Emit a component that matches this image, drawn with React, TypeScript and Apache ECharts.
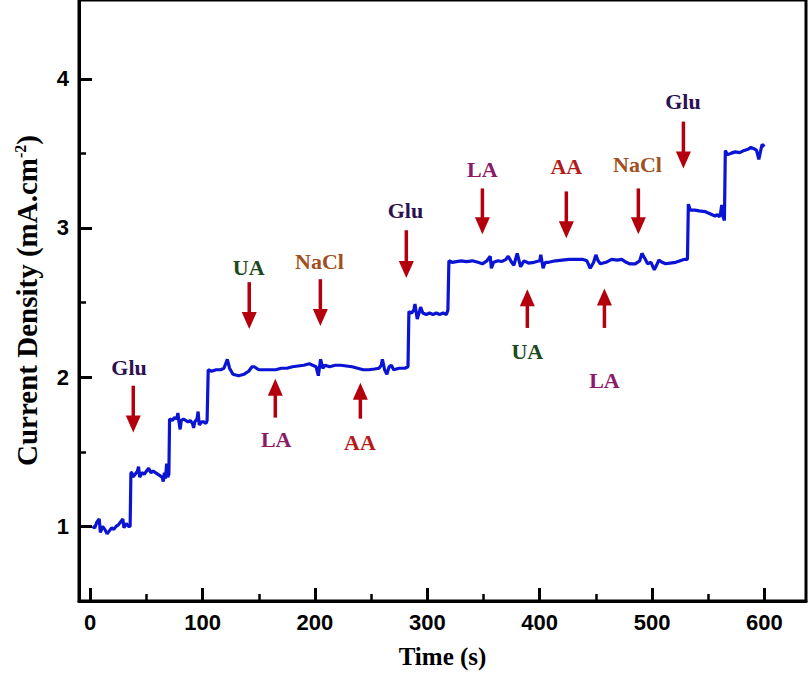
import React, { useEffect, useRef } from "react";
import * as echarts from "echarts";

// Amperometric response: time (s) and current density (mA.cm-2)
const timeS = [
  2, 4, 6, 8, 9, 11, 13, 15, 17, 19, 21, 23, 25, 27, 29, 30, 32, 34, 35.5, 36.2,
  37, 38, 40, 42, 43, 44, 46, 48, 50, 52, 54, 56, 58, 60, 62, 64, 65, 66, 67, 68, 69, 70,
  70.6, 73, 75, 77, 78, 79, 80, 81, 83, 85, 87, 89, 91, 92, 93, 95, 96, 97, 99, 101, 103, 104,
  105, 108, 112, 116, 119, 121, 122, 124, 127, 132, 137, 141, 144, 146, 150, 155, 160, 165,
  170, 175, 180, 185, 190, 195, 198, 201, 203, 205, 207, 209, 213, 218, 223, 228, 233, 238,
  243, 248, 253, 257, 259, 260, 262, 264, 266, 268, 270, 275, 280, 282.8,
  283.6, 286, 288, 289, 291, 293, 294, 296, 299, 302, 305, 308, 311, 314, 317, 318.3,
  319.2, 322, 326, 330, 335, 340, 345, 349, 353, 356, 357, 359, 363, 366, 370, 372, 375, 377,
  380, 383, 386, 390, 395, 400, 401, 403, 405, 408, 414, 420, 426, 432, 438, 442, 445, 448,
  450, 452, 454, 459, 464, 469, 473, 477, 480, 485, 489, 491, 494, 496, 499, 502, 504, 506,
  509, 512, 516, 521, 525, 529, 531.5,
  532.3, 534, 538, 542, 547, 550, 553, 556, 558, 560, 561, 562, 563, 564.4,
  565.2, 567, 570, 574, 578, 582, 586, 588, 591, 593, 595, 597, 598, 600,
];
const currentDensity = [
  1.0, 0.99, 1.03, 1.05, 0.96, 1.0, 0.98, 0.95, 0.97, 0.99, 0.98, 1.0, 1.01, 1.03, 1.05, 0.99, 1.02, 1.0, 1.0, 1.36,
  1.36, 1.33, 1.35, 1.37, 1.4, 1.33, 1.36, 1.35, 1.37, 1.39, 1.36, 1.37, 1.36, 1.35, 1.34, 1.33, 1.3, 1.36, 1.32, 1.42, 1.33, 1.35,
  1.72, 1.71, 1.73, 1.72, 1.76, 1.7, 1.65, 1.71, 1.72, 1.71, 1.7, 1.71, 1.69, 1.66, 1.7, 1.72, 1.77, 1.68, 1.7, 1.7, 1.69, 1.71,
  2.05, 2.04, 2.05, 2.05, 2.06, 2.1, 2.12, 2.06, 2.02, 2.01, 2.02, 2.04, 2.07, 2.07, 2.05, 2.05, 2.05, 2.05,
  2.06, 2.06, 2.07, 2.075, 2.08, 2.09, 2.08, 2.07, 2.01, 2.12, 2.06, 2.08, 2.07, 2.08, 2.08, 2.075, 2.07, 2.06,
  2.05, 2.05, 2.055, 2.06, 2.08, 2.12, 2.05, 2.02, 2.07, 2.08, 2.05, 2.06, 2.06, 2.07,
  2.44, 2.43, 2.45, 2.49, 2.39, 2.44, 2.47, 2.43, 2.42, 2.43, 2.42, 2.43, 2.42, 2.43, 2.42, 2.45,
  2.78, 2.77, 2.775, 2.78, 2.775, 2.78, 2.77, 2.76, 2.78, 2.81, 2.73, 2.77, 2.78, 2.775, 2.79, 2.81, 2.77, 2.75,
  2.83, 2.74, 2.78, 2.765, 2.77, 2.78, 2.82, 2.73, 2.77, 2.77, 2.78, 2.785, 2.79, 2.79, 2.79, 2.78, 2.73, 2.77,
  2.82, 2.78, 2.76, 2.77, 2.79, 2.785, 2.79, 2.77, 2.76, 2.76, 2.78, 2.83, 2.79, 2.76, 2.77, 2.72, 2.75, 2.785,
  2.77, 2.76, 2.765, 2.77, 2.78, 2.79, 2.79,
  3.16, 3.12, 3.12, 3.115, 3.11, 3.1, 3.09, 3.08, 3.09, 3.075, 3.1, 3.155, 3.08, 3.05,
  3.52, 3.49, 3.5, 3.51, 3.505, 3.52, 3.53, 3.54, 3.53, 3.52, 3.46, 3.53, 3.56, 3.545,
];

// Axis ticks
const xMajorTicks = [0, 100, 200, 300, 400, 500, 600];
const xMinorTicks = [50, 150, 250, 350, 450, 550];
const yMajorTicks = [1, 2, 3, 4];
const yMinorTicks = [1.5, 2.5, 3.5];

// Injection annotations: analyte, time, arrow tail, arrow tip, label level
const annLabels = ["Glu", "UA", "LA", "NaCl", "AA", "Glu", "LA", "UA", "AA", "LA", "NaCl", "Glu"];
const annTime = [38.3, 141.5, 164.7, 204.8, 240.4, 281.3, 349.0, 389.0, 423.7, 457.6, 487.8, 527.9];
const annLabelTime = [34.5, 141.0, 165.5, 204.0, 240.0, 280.5, 349.0, 389.0, 423.7, 457.6, 487.0, 527.5];
const annTail = [1.943, 2.637, 1.729, 2.657, 1.722, 2.985, 3.265, 2.33, 3.245, 2.33, 3.265, 3.713];
const annTip = [1.629, 2.323, 1.989, 2.343, 1.963, 2.664, 2.958, 2.59, 2.931, 2.595, 2.958, 3.399];
const annLabelLevel = [2.063, 2.737, 1.582, 2.778, 1.562, 3.118, 3.392, 2.17, 3.412, 1.98, 3.425, 3.846];

const labelColors: Record<string, string> = {
  Glu: "#2b1150",
  UA: "#1c4a1c",
  LA: "#8c1a6a",
  NaCl: "#a14f1d",
  AA: "#b31b1b",
};
const arrowColor = "#b3000c";

export default function App() {
  const ref = useRef<HTMLDivElement>(null);

  useEffect(() => {
    if (!ref.current) return;
    const chart = echarts.init(ref.current, undefined, { renderer: "svg" });
    const lineData = timeS.map((t, i) => [t, currentDensity[i]]);
    const annData = annTime.map((t, i) => [t, annTail[i], annTip[i], annLabelLevel[i], i, annLabelTime[i]]);
    const xMin = -10;
    const xMax = 637;
    const yMin = 0.5;
    const yMax = 4.528;

    chart.setOption({
      animation: false,
      backgroundColor: "#ffffff",
      grid: {
        left: 79,
        right: 4,
        top: -2,
        bottom: 75,
        show: true,
        borderColor: "#000",
        borderWidth: 3,
        containLabel: false,
      },
      xAxis: [
        {
          type: "value",
          min: xMin,
          max: xMax,
          position: "bottom",
          axisLine: { show: true, onZero: false, lineStyle: { color: "#000", width: 3 } },
          axisTick: { show: true, inside: true, length: 13, customValues: xMajorTicks, lineStyle: { color: "#000", width: 3 } },
          axisLabel: {
            customValues: xMajorTicks,
            fontFamily: "Liberation Sans",
            fontWeight: "bold",
            fontSize: 22,
            color: "#000",
            margin: 10,
          },
          splitLine: { show: false },
          name: "Time (s)",
          nameLocation: "middle",
          nameGap: 43,
          nameTextStyle: { fontFamily: "Liberation Serif", fontWeight: "bold", fontSize: 25, color: "#000" },
        },
        {
          type: "value",
          min: xMin,
          max: xMax,
          position: "bottom",
          axisLine: { show: false, onZero: false },
          axisTick: { show: true, inside: true, length: 7, customValues: xMinorTicks, lineStyle: { color: "#000", width: 2.5 } },
          axisLabel: { show: false },
          splitLine: { show: false },
        },
      ],
      yAxis: [
        {
          type: "value",
          min: yMin,
          max: yMax,
          position: "left",
          axisLine: { show: true, onZero: false, lineStyle: { color: "#000", width: 3 } },
          axisTick: { show: true, inside: true, length: 13, customValues: yMajorTicks, lineStyle: { color: "#000", width: 3 } },
          axisLabel: {
            customValues: yMajorTicks,
            fontFamily: "Liberation Sans",
            fontWeight: "bold",
            fontSize: 22,
            color: "#000",
            margin: 10,
          },
          splitLine: { show: false },
          name: "Current Density (mA.cm{sup|-2})",
          nameLocation: "middle",
          nameGap: 37,
          nameRotate: 90,
          nameTextStyle: {
            fontFamily: "Liberation Serif",
            fontWeight: "bold",
            fontSize: 29,
            color: "#000",
            rich: {
              sup: {
                fontFamily: "Liberation Serif",
                fontWeight: "bold",
                fontSize: 16,
                color: "#000",
                verticalAlign: "top",
                padding: [0, 0, 14, 0],
              },
            },
          },
        },
        {
          type: "value",
          min: yMin,
          max: yMax,
          position: "left",
          axisLine: { show: false, onZero: false },
          axisTick: { show: true, inside: true, length: 7, customValues: yMinorTicks, lineStyle: { color: "#000", width: 2.5 } },
          axisLabel: { show: false },
          splitLine: { show: false },
        },
      ],
      series: [
        {
          type: "line",
          xAxisIndex: 0,
          yAxisIndex: 0,
          data: lineData,
          showSymbol: false,
          symbol: "none",
          lineStyle: { color: "#0a14d2", width: 3.2 },
          z: 3,
        },
        {
          type: "custom",
          xAxisIndex: 0,
          yAxisIndex: 0,
          clip: false,
          silent: true,
          encode: { x: 0, y: [1, 2, 3] },
          data: annData,
          renderItem: (_params: any, api: any) => {
            const t = api.value(0);
            const tail = api.value(1);
            const tip = api.value(2);
            const lvl = api.value(3);
            const idx = api.value(4);
            const lt = api.value(5);
            const pTail = api.coord([t, tail]);
            const pTip = api.coord([t, tip]);
            const pLab = api.coord([lt, lvl]);
            const dir = pTip[1] > pTail[1] ? 1 : -1;
            const headLen = 17;
            const headW = 7.5;
            const baseY = pTip[1] - dir * headLen;
            const label = annLabels[idx];
            return {
              type: "group",
              children: [
                {
                  type: "line",
                  shape: { x1: pTail[0], y1: pTail[1], x2: pTip[0], y2: baseY + dir * 2 },
                  style: { stroke: arrowColor, lineWidth: 3.5 },
                },
                {
                  type: "polygon",
                  shape: {
                    points: [
                      [pTip[0] - headW, baseY],
                      [pTip[0] + headW, baseY],
                      [pTip[0], pTip[1]],
                    ],
                  },
                  style: { fill: arrowColor },
                },
                {
                  type: "text",
                  x: pLab[0],
                  y: pLab[1],
                  style: {
                    text: label,
                    fill: labelColors[label],
                    font: 'bold 22px "Liberation Serif"',
                    align: "center",
                    verticalAlign: "middle",
                  },
                },
              ],
            };
          },
          z: 4,
        },
      ],
    });

    return () => chart.dispose();
  }, []);

  return (
    <div
      ref={ref}
      style={{ position: "fixed", left: 0, top: 0, width: 810, height: 676, background: "#fff" }}
    />
  );
}
